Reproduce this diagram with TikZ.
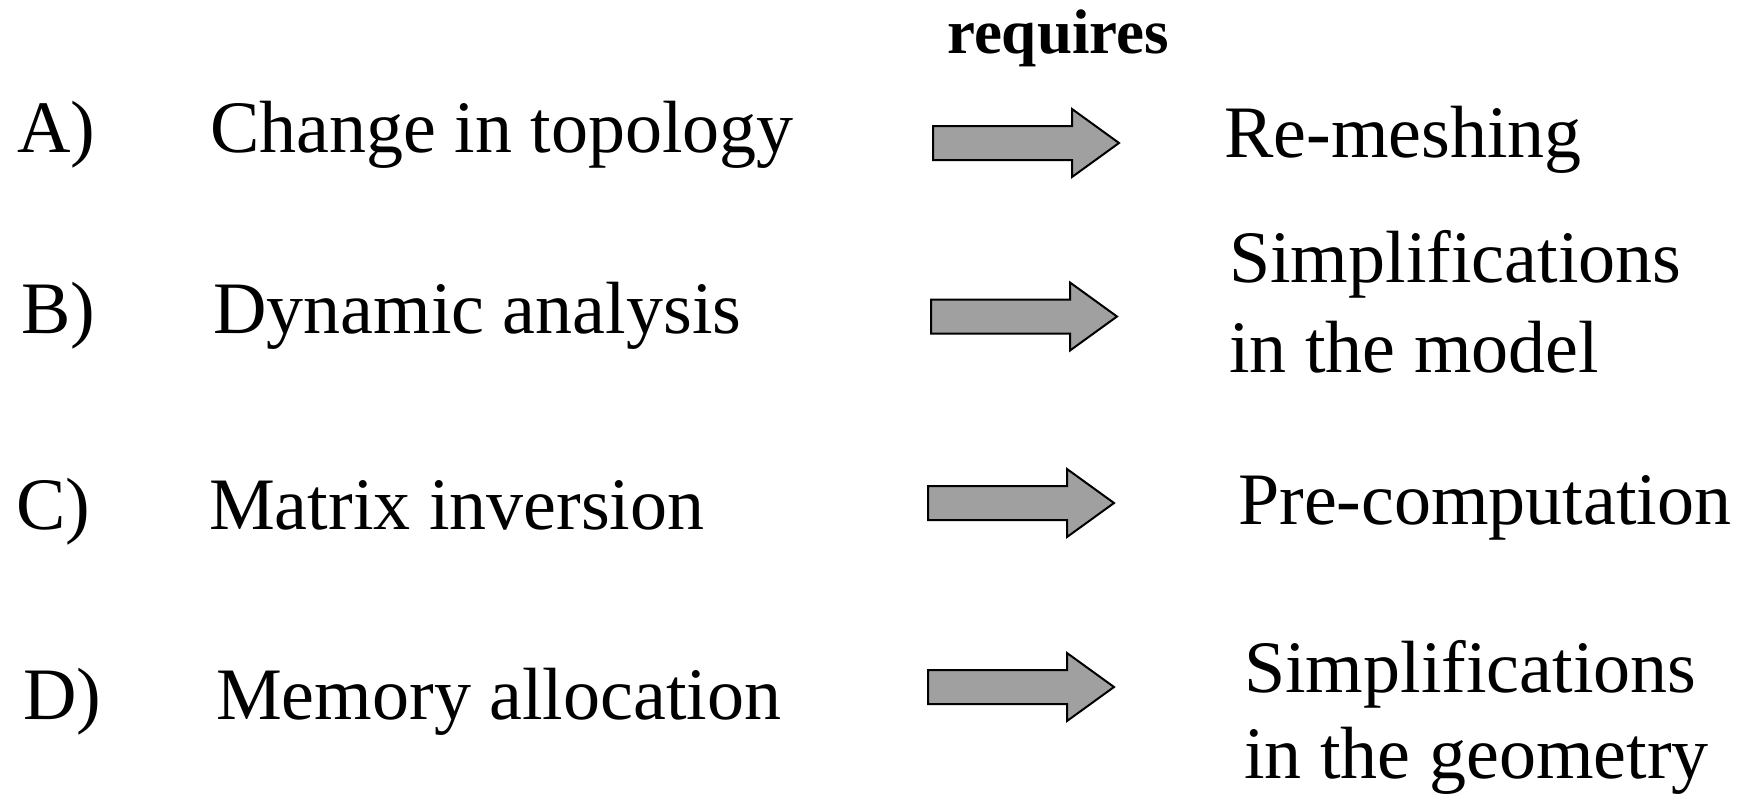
\documentclass[tikz,border=0pt]{standalone}
\usepackage{fontspec}
\setmainfont{Liberation Serif}
\begin{document}
\begin{tikzpicture}[x=1pt,y=-1pt,
  txt/.style={anchor=base west, inner sep=0pt, font=\fontsize{74}{88}\selectfont},
  twoline/.style={txt, align=left},
  headword/.style={anchor=base, inner sep=0pt, font=\fontsize{63}{70}\selectfont\bfseries},
  blockarrow/.style={draw=black, line width=2pt, fill={rgb,255:red,160;green,160;blue,160}, line join=miter}]
\useasboundingbox (0,0) rectangle (1758,795);

% heading over the arrow column
\node[headword] (head) at (1058,53) {requires};

% row labels
\node[txt] (labA) at (17,152) {A)};
\node[txt] (labB) at (21,333) {B)};
\node[txt] (labC) at (16,529) {C)};
\node[txt] (labD) at (23,719) {D)};

% causes
\node[txt] (srcA) at (210,152) {Change in topology};
\node[txt] (srcB) at (213,333) {Dynamic analysis};
\node[txt] (srcC) at (209,529) {Matrix inversion};
\node[txt] (srcD) at (216,719) {Memory allocation};

% consequences (two-line nodes are placed by the baseline of their last line)
\node[txt] (dstA) at (1224,157) {Re-meshing};
\node[twoline, font=\fontsize{74}{90}\selectfont] (dstB) at (1229,372) {Simplifications\\in the model};
\node[txt] (dstC) at (1238,524) {Pre-computation};
\node[twoline, font=\fontsize{74}{86}\selectfont] (dstD) at (1244,778) {Simplifications\\in the geometry};

% block arrows: tail at the given point, 186 long, 47 long head
\newcommand\blockarrowat[2]{%
  \coordinate (#1) at #2;
  \draw[blockarrow] (#1) ++(0,-17) -- ++(139,0) -- ++(0,-17) -- ++(47,34)
    -- ++(-47,34) -- ++(0,-17) -- ++(-139,0) -- cycle;
}
\blockarrowat{arrA}{(933,143)}
\blockarrowat{arrB}{(931,316.5)}
\blockarrowat{arrC}{(928,503)}
\blockarrowat{arrD}{(928,687)}
\end{tikzpicture}
\end{document}
